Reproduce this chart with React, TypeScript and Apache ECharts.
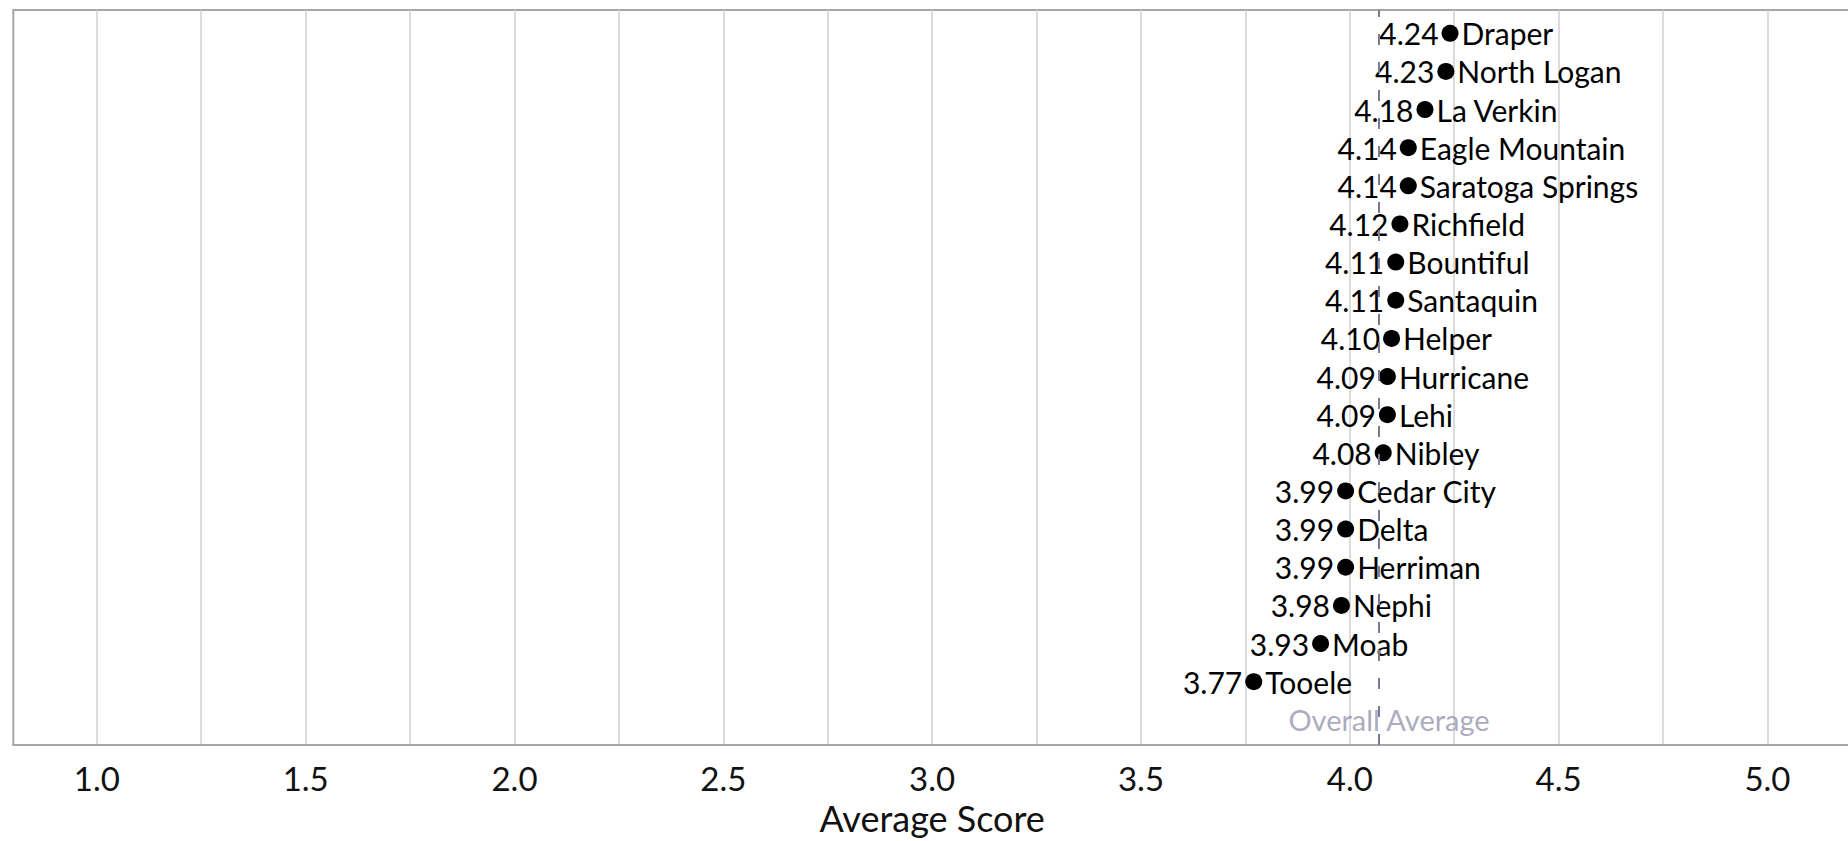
import React, { useEffect, useRef } from 'react';
import * as echarts from 'echarts';

// ---- data ----
const cities = [
  'Draper', 'North Logan', 'La Verkin', 'Eagle Mountain', 'Saratoga Springs', 'Richfield',
  'Bountiful', 'Santaquin', 'Helper', 'Hurricane', 'Lehi', 'Nibley',
  'Cedar City', 'Delta', 'Herriman', 'Nephi', 'Moab', 'Tooele',
];
const scores = [
  4.24, 4.23, 4.18, 4.14, 4.14, 4.12,
  4.11, 4.11, 4.10, 4.09, 4.09, 4.08,
  3.99, 3.99, 3.99, 3.98, 3.93, 3.77,
];
const overallAverage = [4.07];
const overallAverageLabel = ['Overall Average'];
const xTickLabels = ['1.0', '1.5', '2.0', '2.5', '3.0', '3.5', '4.0', '4.5', '5.0'];
const xAxisTitle = 'Average Score';

const FONT = 'Lato, "Noto Sans", sans-serif';

export default function App() {
  const ref = useRef<HTMLDivElement>(null);

  useEffect(() => {
    if (!ref.current) return;
    const chart = echarts.init(ref.current, undefined, { renderer: 'svg' });

    const n = cities.length;
    const dotData = scores.map((s, i) => [s, n - i]);
    const clear = 'rgba(0,0,0,0)';

    chart.setOption({
      animation: false,
      backgroundColor: '#ffffff',
      grid: {
        left: 13.3,
        top: 10,
        right: -3,
        bottom: 96,
        containLabel: false,
        outerBoundsMode: 'none',
        show: true,
        borderColor: '#a6a6a6',
        borderWidth: 2,
        backgroundColor: 'transparent',
      },
      xAxis: {
        type: 'value',
        min: 0.8,
        max: 5.2,
        interval: 0.05,
        name: xAxisTitle,
        nameLocation: 'middle',
        nameGap: 55,
        nameTextStyle: { fontFamily: FONT, fontSize: 36, lineHeight: 36, color: '#111111' },
        axisLine: { show: true, onZero: false, lineStyle: { color: '#a6a6a6', width: 2 } },
        axisTick: { show: false },
        axisLabel: {
          interval: 0,
          margin: 16,
          fontFamily: FONT,
          fontSize: 33,
          color: '#111111',
          showMinLabel: true,
          showMaxLabel: true,
          formatter: (v: number) => {
            for (const t of xTickLabels) {
              if (Math.abs(parseFloat(t) - v) < 1e-6) return t;
            }
            return '';
          },
        },
        splitLine: {
          show: true,
          lineStyle: { color: [clear, clear, clear, clear, '#cfcfcf'], width: 1.5 },
        },
      },
      yAxis: {
        type: 'value',
        min: -0.66,
        max: 18.61,
        show: false,
        splitLine: { show: false },
      },
      series: [
        {
          type: 'scatter',
          z: 1,
          silent: true,
          symbolSize: 0,
          data: overallAverage.map((v) => [v, 0]),
          label: {
            show: true,
            position: 'inside',
            offset: [10, 0],
            formatter: (p: any) => overallAverageLabel[p.dataIndex],
            fontFamily: FONT,
            fontSize: 29,
            color: '#9595ad',
          },
          markLine: {
            silent: true,
            symbol: 'none',
            label: { show: false },
            lineStyle: { type: [11, 17], color: '#7a7a92', width: 2 },
            data: overallAverage.map((v) => ({ xAxis: v })),
          },
        },
        {
          type: 'scatter',
          z: 3,
          silent: true,
          symbol: 'circle',
          symbolSize: 17,
          itemStyle: { color: '#000000', opacity: 1 },
          data: dotData,
          label: {
            show: true,
            position: 'left',
            distance: 3,
            formatter: (p: any) => scores[p.dataIndex].toFixed(2),
            fontFamily: FONT,
            fontSize: 30,
            color: '#000000',
          },
        },
        {
          type: 'scatter',
          z: 3,
          silent: true,
          symbol: 'circle',
          symbolSize: 17,
          itemStyle: { color: clear, opacity: 1 },
          data: dotData,
          label: {
            show: true,
            position: 'right',
            distance: 3,
            formatter: (p: any) => cities[p.dataIndex],
            fontFamily: FONT,
            fontSize: 30,
            color: '#000000',
          },
        },
      ],
    });

    return () => chart.dispose();
  }, []);

  return (
    <div
      ref={ref}
      style={{ position: 'fixed', left: 0, top: 0, width: 1848, height: 841, background: '#fff' }}
    />
  );
}
